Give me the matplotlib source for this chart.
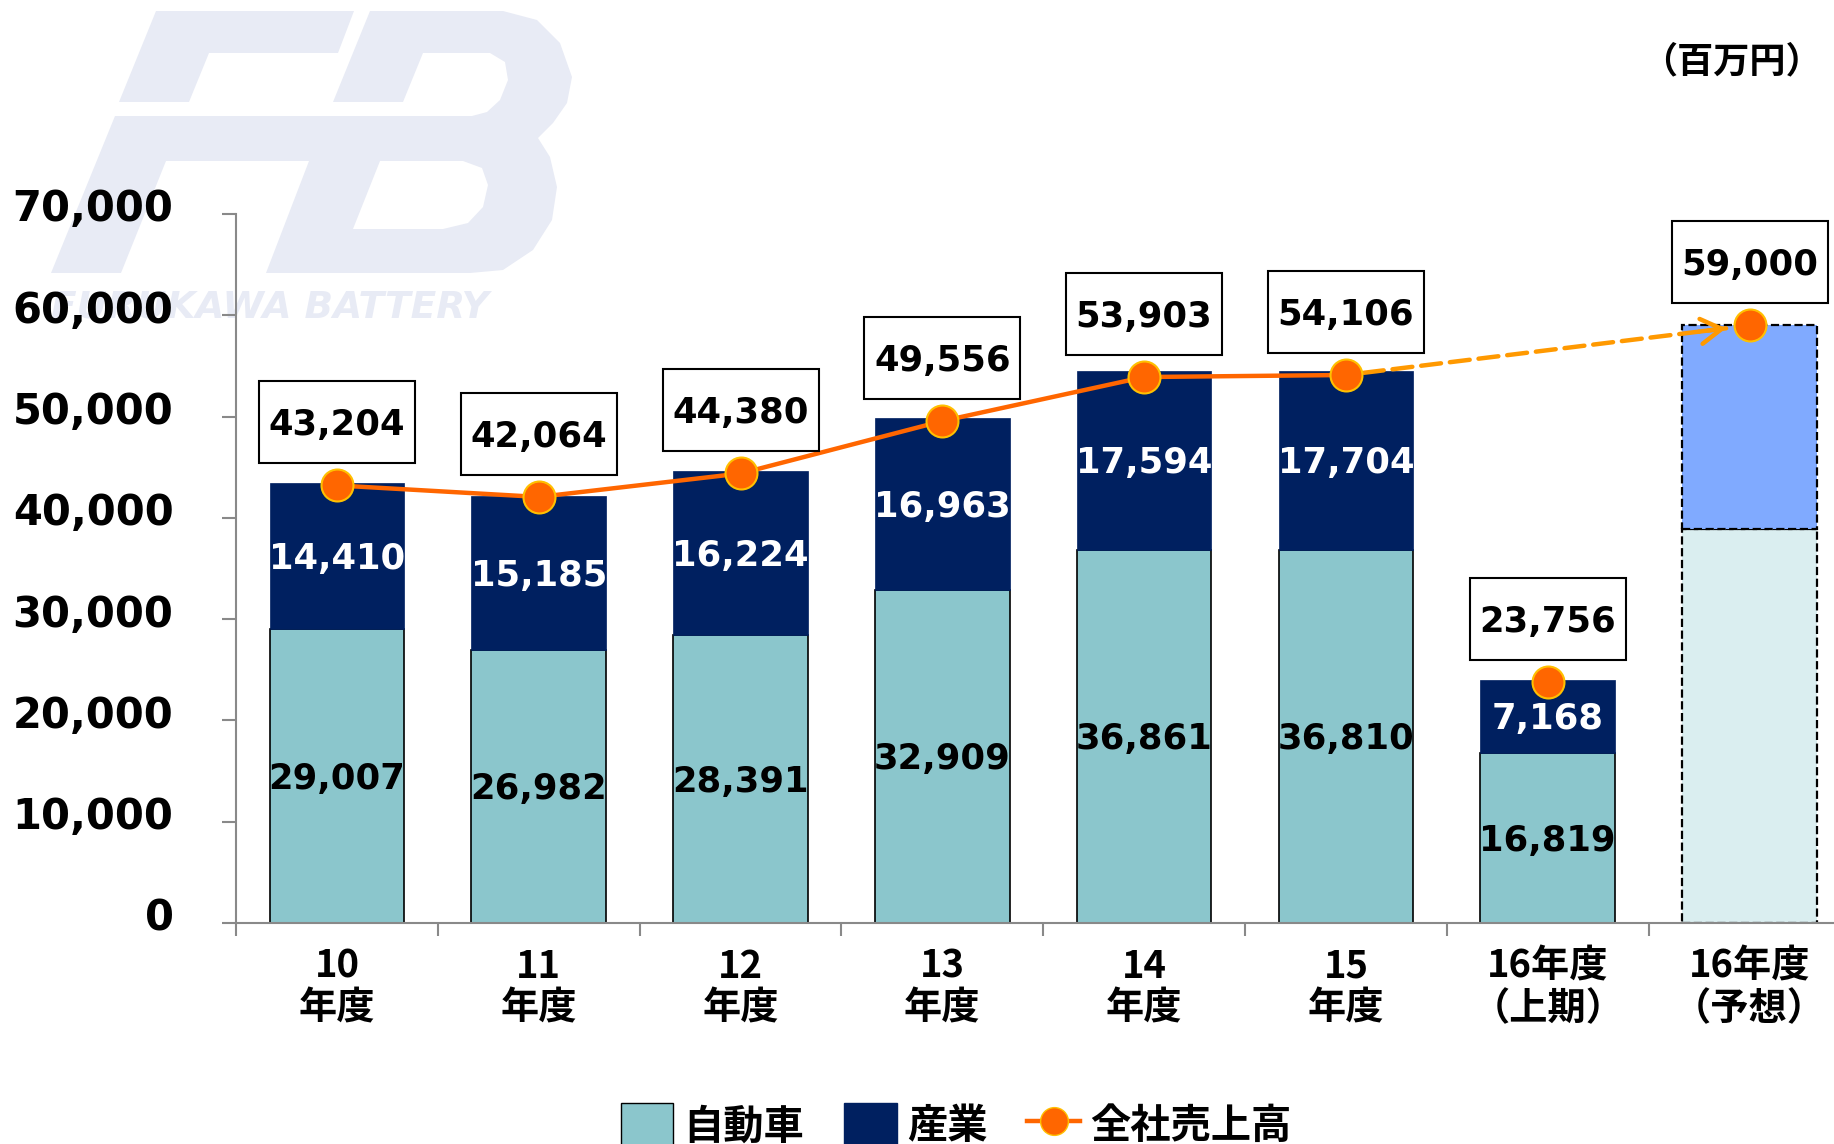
import numpy as np
import matplotlib
matplotlib.use('Agg')
import matplotlib.pyplot as plt
from matplotlib.patches import Rectangle, Patch, PathPatch
from matplotlib.lines import Line2D
from matplotlib.path import Path
from matplotlib.font_manager import FontProperties
from matplotlib.transforms import ScaledTranslation

plt.rcParams['font.family'] = ['DejaVu Sans', 'Noto Sans CJK JP']

# データ（百万円）
years = ['10\n年度', '11\n年度', '12\n年度', '13\n年度', '14\n年度', '15\n年度',
         '16年度\n（上期）', '16年度\n（予想）']
auto = [29007, 26982, 28391, 32909, 36861, 36810, 16819]
industry = [14410, 15185, 16224, 16963, 17594, 17704, 7168]
total = [43204, 42064, 44380, 49556, 53903, 54106, 23756, 59000]
forecast_auto = 38900
forecast_industry = 20100

teal = '#8BC6CC'
navy = '#002060'
orange = '#FF6600'
logo_col = '#E8EBF5'

W, H = 1834, 1144
fig = plt.figure(figsize=(W / 100, H / 100), dpi=100)

# 背景のロゴ（透かし）
def px(pts):
    return [(x / W, 1 - y / H) for x, y in pts]

def closed(pts):
    v = px(pts)
    return Path(v + [v[0]], closed=True)

f_top = [(156, 11), (354, 11), (338, 53), (209, 53), (189, 102), (119, 102)]
body = [(370, 11), (503, 11), (537, 20), (560, 43), (572, 77), (567, 103),
        (553, 123), (538, 138), (550, 157), (557, 187), (552, 220), (533, 250),
        (503, 270), (470, 273), (266, 273), (309, 161), (166, 161), (121, 273),
        (51, 273), (115, 116), (472, 116), (487, 112), (500, 100), (508, 80),
        (505, 62), (490, 53), (423, 53), (403, 102), (333, 102)]
hole = [(380, 161), (463, 161), (482, 168), (488, 185), (483, 207),
        (468, 223), (443, 229), (353, 229)]
logo = Path.make_compound_path(closed(f_top), closed(body), closed(hole[::-1]))
fig.add_artist(PathPatch(logo, transform=fig.transFigure, fc=logo_col, ec='none', zorder=0))
fig.text(51 / W, 1 - 318 / H, 'FURUKAWA BATTERY', fontsize=27, weight='bold',
         style='italic', color=logo_col, family='DejaVu Sans', va='baseline', zorder=0)

ax = fig.add_axes([236 / W, 1 - 923 / H, 8 * 201.8 / W, (923 - 214) / H], zorder=1)
ax.patch.set_visible(False)
ax.set_xlim(-0.5, 7.5)
ax.set_ylim(0, 70000)

x = np.arange(len(years))
bw = 0.667
ax.bar(x[:7], auto, bw, color=teal, edgecolor='black', lw=1.2, zorder=2)
ax.bar(x[:7], industry, bw, bottom=auto, color=navy, edgecolor=navy, lw=0.5, zorder=2)
ax.bar(x[7], forecast_auto, bw, color='#DAEEF0', edgecolor='black', lw=1.6, ls='--', zorder=2)
ax.bar(x[7], forecast_industry, bw, bottom=forecast_auto, color='#80AAFF',
       edgecolor='black', lw=1.6, ls='--', zorder=2)

# 全社売上高
ax.plot(x[:6], total[:6], color=orange, lw=3.2, zorder=4)
ax.annotate('', xy=(x[7], total[7]), xytext=(x[5], total[5]),
            arrowprops=dict(arrowstyle='-', color='#FF9900', lw=3.2, ls=(0, (4.5, 2)),
                            shrinkA=13, shrinkB=17), zorder=3)
frac = 0.125
ax.annotate('', xy=(x[7], total[7]),
            xytext=(x[7] - 2 * frac, total[7] - frac * (total[7] - total[5])),
            arrowprops=dict(arrowstyle='->,head_length=0.5,head_width=0.3', color='#FF9900',
                            lw=3.2, shrinkA=0, shrinkB=17, mutation_scale=30), zorder=3)
ax.plot(x, total, ls='none', marker='o', ms=23, mfc=orange, mec='#FFC000', mew=1.5, zorder=5)

# ラベル
ppx = ax.bbox.width / 8
ppy = ax.bbox.height / 70000
fs = 25.5
cap = 0.729 * fs * 100 / 72 / 2 / ppy

for i, t in enumerate(total):
    cy = t + 63 / ppy
    ax.add_patch(Rectangle((i - 78 / ppx, cy - 41 / ppy), 156 / ppx, 82 / ppy,
                           fc='white', ec='black', lw=1.5, zorder=6))
    ax.text(i, cy - cap, f'{t:,}', ha='center', va='baseline', fontsize=fs,
            weight='bold', zorder=7)

for i in range(7):
    ax.text(i, auto[i] / 2 - cap, f'{auto[i]:,}', ha='center', va='baseline',
            fontsize=fs, weight='bold', color='black', zorder=7)
    ax.text(i, auto[i] + industry[i] / 2 - cap, f'{industry[i]:,}', ha='center',
            va='baseline', fontsize=fs, weight='bold', color='white', zorder=7)

# 軸
for s in ['top', 'right']:
    ax.spines[s].set_visible(False)
for s in ['left', 'bottom']:
    ax.spines[s].set_color('#898989')
    ax.spines[s].set_linewidth(1.5)

ax.set_yticks(range(0, 70001, 10000))
ax.set_yticklabels([f'{v:,}' for v in range(0, 70001, 10000)], fontsize=30, weight='bold')
ax.tick_params(axis='y', length=10, width=1.5, color='#898989', pad=35)
shift = ScaledTranslation(0, 6.5 / 72, fig.dpi_scale_trans)
for lab in ax.get_yticklabels():
    lab.set_transform(lab.get_transform() + shift)

ax.set_xticks(np.arange(-0.5, 8, 1))
ax.set_xticks(x, minor=True)
ax.set_xticklabels(years, minor=True, fontproperties=FontProperties(
    family='Noto Sans CJK JP', weight='bold', size=27.5), linespacing=1.1)
ax.tick_params(axis='x', which='major', length=9, width=1.5, color='#898989', labelbottom=False)
ax.tick_params(axis='x', which='minor', length=0, pad=17)

fig.text(1731 / W, 1 - 62 / H, '（百万円）', ha='center', va='center', fontsize=26,
         weight='bold', family='Noto Sans CJK JP')

handles = [Patch(facecolor=teal, edgecolor='black'),
           Patch(facecolor=navy, edgecolor=navy),
           Line2D([], [], color=orange, lw=3.2, marker='o', ms=20, mfc=orange, mec='#FFC000')]
fig.legend(handles, ['自動車', '産業', '全社売上高'], loc='center',
           bbox_to_anchor=(956 / W, 1 - 1125 / H), ncol=3, frameon=False,
           prop=FontProperties(family='Noto Sans CJK JP', weight='bold', size=29),
           handlelength=1.3, handleheight=1.3, handletextpad=0.25, columnspacing=1.0)

fig.savefig('out.png', dpi=100)
